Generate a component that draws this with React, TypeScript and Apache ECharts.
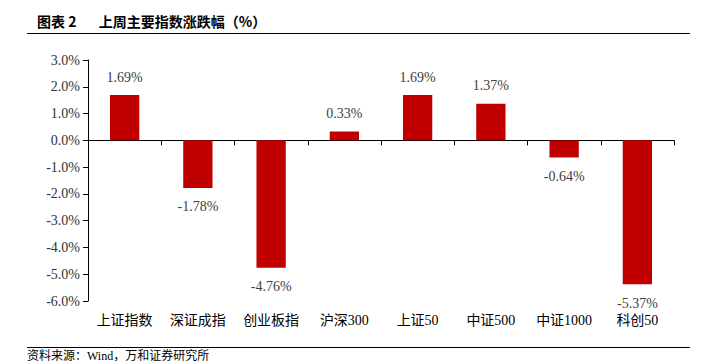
import React, { useEffect, useRef } from "react";
import * as echarts from "echarts";

const categories = ["上证指数", "深证成指", "创业板指", "沪深300", "上证50", "中证500", "中证1000", "科创50"];
const changes = [1.69, -1.78, -4.76, 0.33, 1.69, 1.37, -0.64, -5.37];
const titleText = "图表 2       上周主要指数涨跌幅（%）";
const sourceText = "资料来源：Wind，万和证券研究所";

const serif = "'Liberation Serif', 'Noto Sans CJK SC', serif";

export default function App() {
  const ref = useRef<HTMLDivElement>(null);
  useEffect(() => {
    document.body.style.margin = "0";
    const chart = echarts.init(ref.current!, null, { renderer: "svg" });
    chart.setOption({
      animation: false,
      backgroundColor: "#ffffff",
      grid: { left: 88, right: 38, top: 60, bottom: 63 },
      graphic: [
        {
          type: "text",
          left: 37,
          top: 14,
          style: { text: titleText, fontFamily: "'Noto Sans CJK SC', serif", fontSize: 14, fontWeight: "bold", fill: "#000" },
        },
        { type: "line", shape: { x1: 27, y1: 33.5, x2: 690, y2: 33.5 }, style: { stroke: "#000", lineWidth: 1 } },
        { type: "line", shape: { x1: 27, y1: 347.5, x2: 690, y2: 347.5 }, style: { stroke: "#000", lineWidth: 1 } },
        {
          type: "text",
          left: 27,
          top: 350,
          style: { text: sourceText, fontFamily: serif, fontSize: 12, fill: "#000" },
        },
      ],
      xAxis: [
        {
          type: "category",
          data: categories,
          axisLine: { onZero: true, lineStyle: { color: "#000", width: 1 } },
          axisTick: { show: true, length: 5, lineStyle: { color: "#000" } },
          axisLabel: { show: false },
        },
        {
          type: "category",
          data: categories,
          position: "bottom",
          axisLine: { show: false, onZero: false },
          axisTick: { show: false },
          axisLabel: { show: true, interval: 0, color: "#000", fontSize: 14, fontFamily: serif, margin: 12 },
        },
      ],
      yAxis: {
        type: "value",
        min: -6,
        max: 3,
        interval: 1,
        splitLine: { show: false },
        axisLine: { show: true, lineStyle: { color: "#000" } },
        axisTick: { show: true, length: 5, lineStyle: { color: "#000" } },
        axisLabel: {
          color: "#333",
          fontSize: 14,
          fontFamily: serif,
          margin: 8,
          formatter: (v: number) => v.toFixed(1) + "%",
        },
      },
      series: [
        {
          type: "bar",
          xAxisIndex: 0,
          data: changes.map((v) => ({
            value: v,
            label: { position: v >= 0 ? "top" : "bottom", distance: v >= 0 ? 11 : 12 },
          })),
          barWidth: "40%",
          itemStyle: { color: "#C00000" },
          label: {
            show: true,
            color: "#404040",
            fontSize: 14,
            fontFamily: serif,
            formatter: (p: any) => p.value.toFixed(2) + "%",
          },
        },
      ],
    });
    return () => chart.dispose();
  }, []);
  return <div ref={ref} style={{ width: 712, height: 364 }} />;
}
